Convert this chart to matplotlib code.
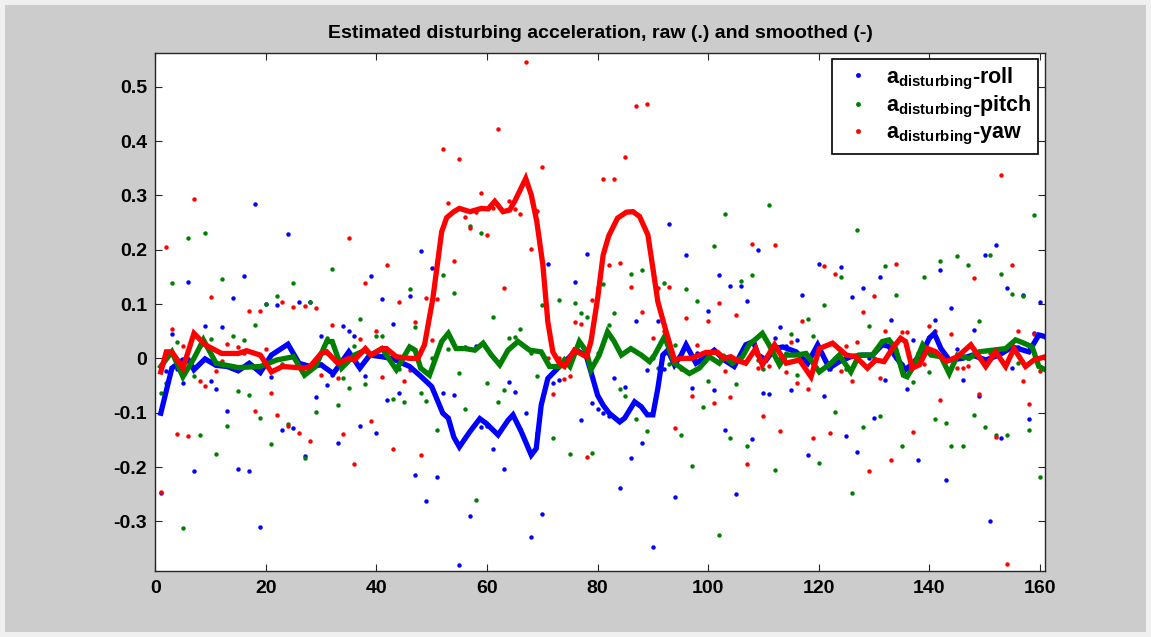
# Disturbing acceleration estimates per axis: raw samples as dots, smoothed as thick lines

import numpy as np
import matplotlib.pyplot as plt
from matplotlib.patches import Rectangle

plt.rcParams['font.family'] = ['Liberation Sans', 'DejaVu Sans']
plt.rcParams['font.weight'] = 'bold'
plt.rcParams['mathtext.fontset'] = 'custom'
plt.rcParams['mathtext.rm'] = 'Liberation Sans:bold'
plt.rcParams['mathtext.bf'] = 'Liberation Sans:bold'
plt.rcParams['mathtext.it'] = 'Liberation Sans:bold'

# -- data --
sample = np.arange(1, 162)

roll_raw = [
    -0.247, -0.023, 0.045, -0.020, -0.045, 0.141, -0.208, 0.023, 0.060, -0.041,
    -0.056, 0.058, -0.096, 0.111, -0.204, 0.152, -0.208, 0.284, -0.311, 0.100,
    -0.034, 0.099, -0.131, 0.229, -0.129, 0.103, -0.179, 0.103, -0.072, 0.042,
    -0.049, -0.030, -0.155, 0.060, 0.050, 0.042, -0.125, -0.033, 0.152, -0.137,
    0.109, -0.076, 0.064, -0.063, -0.010, 0.115, -0.214, 0.198, -0.263, 0.166,
    -0.218, -0.063, -0.110, -0.068, -0.381, 0.021, -0.290, 0.023, -0.127, -0.125,
    -0.166, -0.140, -0.203, -0.043, -0.062, -0.130, -0.100, -0.328, -0.137, -0.287,
    0.174, -0.046, -0.040, -0.010, 0.000, 0.141, -0.113, 0.192, -0.083, -0.093,
    -0.100, -0.106, -0.037, -0.239, -0.053, -0.184, 0.068, -0.155, -0.021, -0.347,
    0.069, -0.020, 0.247, -0.255, 0.000, 0.190, -0.055, 0.010, 0.000, 0.087,
    -0.058, 0.154, -0.131, 0.134, -0.249, 0.133, 0.105, -0.149, 0.200, -0.064,
    -0.066, 0.038, 0.058, 0.023, -0.058, 0.033, 0.117, -0.178, 0.010, 0.174,
    -0.070, -0.019, 0.000, 0.168, -0.143, 0.113, -0.172, 0.129, 0.000, -0.109,
    0.150, -0.039, 0.071, 0.000, -0.010, -0.056, 0.034, -0.188, 0.010, 0.040,
    0.071, 0.162, -0.223, 0.093, 0.018, -0.039, 0.000, 0.052, -0.069, 0.190,
    -0.300, 0.209, -0.147, 0.129, -0.017, 0.020, 0.117, -0.111, 0.047, 0.103,
    0.040,
]

pitch_raw = [
    -0.064, -0.046, 0.138, 0.031, -0.312, 0.221, -0.032, -0.141, 0.231, 0.036,
    -0.176, 0.146, -0.125, 0.042, -0.060, 0.033, -0.068, 0.062, -0.109, 0.100,
    -0.157, 0.115, -0.010, -0.121, 0.138, -0.010, -0.184, 0.104, -0.098, -0.010,
    0.037, 0.164, -0.086, -0.037, -0.055, 0.023, 0.072, -0.047, 0.010, 0.042,
    0.042, 0.010, -0.074, -0.020, -0.080, 0.127, 0.058, -0.063, -0.078, 0.001,
    -0.131, 0.154, 0.018, 0.121, -0.027, -0.093, 0.244, -0.261, 0.231, -0.045,
    0.076, -0.080, -0.058, 0.038, 0.040, 0.054, 0.020, 0.009, -0.033, 0.099,
    -0.010, -0.147, 0.107, -0.001, -0.176, 0.101, 0.083, 0.077, -0.174, 0.010,
    0.136, 0.061, 0.083, -0.056, -0.070, 0.156, -0.111, 0.162, -0.133, 0.000,
    -0.017, 0.138, -0.010, 0.024, -0.141, 0.127, -0.198, 0.105, -0.089, -0.041,
    0.206, -0.326, 0.266, -0.147, -0.048, 0.142, -0.161, 0.154, -0.003, -0.019,
    0.282, -0.206, 0.000, 0.010, 0.044, -0.031, 0.000, 0.072, 0.042, -0.192,
    0.098, -0.010, -0.098, 0.149, -0.020, -0.247, 0.237, -0.127, 0.060, 0.000,
    -0.106, 0.170, 0.020, 0.117, -0.161, -0.030, -0.044, 0.010, 0.149, -0.025,
    -0.111, 0.180, -0.119, -0.161, 0.188, -0.161, 0.172, -0.104, 0.069, -0.127,
    0.190, -0.141, 0.156, -0.141, 0.119, -0.009, 0.115, -0.131, 0.263, -0.218,
    -0.020,
]

yaw_raw = [
    -0.246, 0.205, 0.054, -0.139, 0.023, -0.143, 0.294, -0.042, -0.050, 0.113,
    -0.023, -0.005, 0.026, 0.010, 0.020, 0.010, 0.087, -0.096, 0.087, 0.017,
    -0.064, -0.104, 0.103, -0.125, 0.095, -0.137, 0.097, -0.152, 0.093, -0.031,
    0.010, 0.062, -0.037, -0.139, 0.222, -0.194, 0.036, 0.138, -0.115, 0.050,
    -0.035, 0.172, -0.167, 0.103, -0.042, -0.021, 0.066, -0.177, 0.111, 0.033,
    0.109, 0.386, 0.286, 0.180, 0.366, 0.260, 0.239, 0.270, 0.304, 0.227,
    0.276, 0.422, 0.129, 0.289, 0.275, 0.265, 0.546, 0.202, 0.271, 0.353,
    0.000, -0.066, 0.000, -0.038, -0.033, 0.066, 0.064, -0.182, 0.107, 0.130,
    0.331, 0.172, 0.330, 0.176, 0.371, 0.131, 0.465, 0.085, 0.469, 0.038,
    0.129, 0.050, 0.131, -0.129, -0.020, 0.074, -0.070, 0.025, 0.010, 0.069,
    -0.082, 0.101, -0.023, -0.072, 0.080, 0.000, -0.194, 0.211, -0.017, -0.106,
    -0.015, 0.209, -0.133, -0.026, 0.031, -0.045, 0.068, -0.056, -0.147, 0.020,
    0.170, -0.137, 0.155, -0.023, 0.023, -0.041, 0.031, 0.085, -0.208, 0.115,
    -0.037, 0.050, -0.188, 0.174, 0.048, 0.049, -0.135, -0.010, -0.011, 0.060,
    0.050, -0.077, 0.000, 0.044, -0.018, -0.017, -0.015, 0.147, -0.066, -0.010,
    0.010, -0.144, 0.337, -0.379, 0.172, 0.050, -0.041, -0.084, 0.045, -0.023,
    0.000,
]

# smoothed estimates (sample position, value)
roll_smooth_x = [1, 3, 5, 6, 7, 9, 11, 13, 15, 17, 19, 21, 24, 26, 28, 30, 32.2, 35, 37,
                 38.8, 41, 43, 46, 47.8, 50, 52, 53, 54, 55, 56.9, 58.7, 59.9, 62, 63.8,
                 64.7, 66.2, 68, 68.9, 69.8, 71, 73.1, 75, 76, 76.7, 78, 78.8, 80, 81,
                 82.1, 84, 84.9, 86.7, 87.9, 89, 90, 90.9, 91.8, 92.7, 93.9, 95.1, 96,
                 97.8, 99.6, 101.1, 102.9, 104.7, 106.8, 108.2, 109, 110.5, 112, 113.5,
                 115.9, 118, 119.8, 121.9, 123.7, 125.8, 127.9, 129.7, 131.5, 132.7,
                 133.9, 135.7, 137.3, 138.8, 140, 140.9, 142.1, 143.6, 146, 147.8, 150.2,
                 152.6, 155, 158, 159.8, 161]
roll_smooth_y = [-0.101, -0.018, -0.003, -0.003, -0.021, -0.001, -0.013, -0.015, -0.023,
                 -0.009, -0.026, 0.006, 0.026, -0.009, -0.015, -0.012, -0.028, 0.012,
                 -0.018, 0.006, 0.003, -0.001, -0.015, -0.031, -0.052, -0.101, -0.110,
                 -0.145, -0.163, -0.135, -0.111, -0.120, -0.141, -0.114, -0.104, -0.135,
                 -0.178, -0.166, -0.086, -0.037, -0.015, 0.003, 0.015, 0.012, 0.003,
                 -0.025, -0.068, -0.086, -0.101, -0.117, -0.110, -0.080, -0.089, -0.104,
                 -0.104, -0.055, 0.006, 0.015, -0.012, 0.006, 0.025, -0.009, 0.003, 0.015,
                 -0.003, -0.015, 0.025, 0.031, 0.006, -0.003, 0.018, 0.021, 0.012, -0.009,
                 0.025, -0.018, -0.006, 0.003, 0.006, 0.006, 0.025, 0.022, 0.003, -0.021,
                 -0.006, 0.012, 0.037, 0.046, 0.018, -0.003, 0.000, 0.006, -0.003, 0.006,
                 0.021, 0.012, 0.043, 0.040]

pitch_smooth_x = [1, 3, 5, 7, 8.7, 11, 15, 19, 22, 25, 27, 29, 31, 32, 33.7, 36, 38, 39,
                  41, 43.6, 46, 47, 48, 49.6, 51.8, 53, 54.4, 56, 57.8, 59.3, 60.8, 62.3,
                  63.8, 65.6, 67.7, 69.8, 71.3, 73.1, 74, 75, 76.7, 78, 78.8, 80.3, 81.8,
                  83, 84.3, 86, 87.9, 89.4, 90.3, 92.1, 93.9, 96.6, 98.4, 100.2, 102,
                  102.9, 104.4, 106.2, 107.4, 109.8, 111, 112.9, 114.1, 115.9, 117.7,
                  120.1, 122.2, 123.7, 125.8, 127.3, 129.7, 131.5, 132.7, 133.9, 135.3,
                  136, 137.3, 138.8, 140.3, 142.1, 143.6, 145.1, 147.2, 149, 151.4, 153.8,
                  155.6, 157.1, 158.6, 159.8, 161]
pitch_smooth_y = [-0.015, 0.012, -0.034, 0.000, 0.034, -0.009, -0.017, -0.015, -0.003,
                  0.003, -0.031, -0.015, 0.031, 0.031, -0.018, 0.006, 0.015, 0.006, 0.018,
                  -0.021, 0.021, 0.015, -0.018, -0.031, 0.031, 0.046, 0.018, 0.018, 0.015,
                  0.028, 0.006, -0.012, 0.015, 0.031, 0.015, 0.012, -0.015, -0.015, -0.003,
                  -0.015, 0.031, 0.012, -0.021, 0.006, 0.049, 0.031, 0.006, 0.018, 0.006,
                  -0.006, 0.006, 0.040, -0.009, -0.028, -0.018, 0.003, -0.009, 0.003,
                  -0.009, 0.003, 0.025, 0.046, 0.025, -0.012, 0.006, 0.006, 0.009, -0.025,
                  -0.009, 0.006, -0.025, 0.006, 0.006, 0.031, 0.034, 0.018, -0.031, -0.034,
                  -0.012, 0.025, 0.006, 0.003, -0.028, 0.006, 0.000, 0.012, 0.015, 0.018,
                  0.034, 0.028, 0.021, -0.015, -0.021]

yaw_smooth_x = [1, 2, 3, 5, 7, 9, 12, 15, 16.5, 19, 21, 23, 27, 28, 30, 31, 33, 35, 36,
                38, 39, 41, 41.8, 43.6, 46, 47.5, 48.7, 50.2, 51.8, 52.7, 54, 55, 56.9,
                59, 60.2, 61.4, 62.9, 64.1, 65, 67, 68, 69, 70.1, 71, 71.9, 73.1, 74,
                75.8, 76.7, 78, 78.8, 80, 81, 82, 83.6, 85.2, 86.4, 87.6, 89.1, 90, 90.9,
                92.4, 93.9, 95.1, 96.9, 98.4, 99.6, 101.7, 102.9, 104.1, 105, 106.8,
                107.4, 108.6, 109.8, 112, 114.1, 116.5, 118.6, 120.1, 122.5, 125, 126.7,
                128.8, 130.3, 131.8, 133.3, 134.8, 135.7, 136.9, 138.2, 139.7, 141.2,
                143, 145.1, 147.5, 150.2, 152, 153.8, 155.3, 157.4, 158.9, 161]
yaw_smooth_y = [-0.025, 0.012, 0.012, -0.018, 0.046, 0.025, 0.009, 0.009, 0.014, 0.006,
                -0.025, -0.015, -0.018, -0.015, 0.009, 0.012, -0.009, 0.000, -0.003,
                0.018, 0.006, 0.018, 0.018, 0.003, 0.000, 0.000, 0.025, 0.110, 0.233,
                0.259, 0.270, 0.276, 0.270, 0.276, 0.275, 0.289, 0.270, 0.273, 0.289,
                0.331, 0.301, 0.252, 0.172, 0.067, 0.012, -0.009, -0.015, 0.015, 0.010,
                0.003, 0.031, 0.110, 0.190, 0.225, 0.258, 0.269, 0.270, 0.261, 0.227,
                0.166, 0.104, 0.049, -0.003, 0.000, 0.000, 0.006, 0.011, 0.011, 0.000,
                0.003, -0.003, -0.009, 0.000, 0.018, -0.012, 0.025, -0.009, -0.003,
                -0.034, 0.018, 0.028, 0.006, 0.003, -0.018, -0.003, -0.006, 0.018, 0.037,
                0.031, -0.018, -0.012, 0.018, 0.012, -0.006, 0.003, 0.025, -0.015, 0.012,
                -0.015, 0.018, -0.015, -0.003, 0.003]

labels = [r'$\mathbf{a_{disturbing}}$-roll',
          r'$\mathbf{a_{disturbing}}$-pitch',
          r'$\mathbf{a_{disturbing}}$-yaw']
colors = ['#0000ff', '#008000', '#ff0000']

x_ticks = [0, 20, 40, 60, 80, 100, 120, 140, 160]
y_ticks = [-0.3, -0.2, -0.1, 0, 0.1, 0.2, 0.3, 0.4, 0.5]
y_tick_labels = ['-0.3', '-0.2', '-0.1', '0', '0.1', '0.2', '0.3', '0.4', '0.5']

# -- figure --
fig = plt.figure(figsize=(11.51, 6.37), dpi=100, facecolor='#f0f0f0')
fig.patches.append(Rectangle((5 / 1151, 5 / 637), 1 - 10 / 1151, 1 - 10 / 637,
                             transform=fig.transFigure, facecolor='#cccccc',
                             edgecolor='none', zorder=-10))

ax = fig.add_axes([0.1349, 0.1031, 0.7734, 0.8137])

raws = [roll_raw, pitch_raw, yaw_raw]
smooths = [(roll_smooth_x, roll_smooth_y), (pitch_smooth_x, pitch_smooth_y),
           (yaw_smooth_x, yaw_smooth_y)]

dot_handles = []
for raw, c, lab in zip(raws, colors, labels):
    h, = ax.plot(sample, raw, linestyle='none', marker='o', markersize=3.2,
                 markeredgewidth=0, color=c, label=lab)
    dot_handles.append(h)

for (sx, sy), c in zip(smooths, colors):
    ax.plot(sx, sy, color=c, linewidth=3.8, solid_joinstyle='miter')

ax.set_xlim(0, 161)
ax.set_ylim(-0.392, 0.562)
ax.set_xticks(x_ticks)
ax.set_yticks(y_ticks)
ax.set_yticklabels(y_tick_labels)
ax.tick_params(direction='in', length=5, width=0.8, top=True, right=True,
               labelsize=14, pad=6, colors='#262626', labelcolor='black')
for s in ax.spines.values():
    s.set_color('#262626')
    s.set_linewidth(1.0)

ax.set_title('Estimated disturbing acceleration, raw (.) and smoothed (-)',
             fontsize=14, fontweight='bold', pad=11)

leg = ax.legend(handles=dot_handles, loc='upper right',
                bbox_to_anchor=(0.9916, 0.9884), borderaxespad=0,
                fancybox=False, framealpha=1, edgecolor='black',
                fontsize=15.5, handlelength=1.8, handletextpad=0.4,
                labelspacing=0.12, borderpad=0.3, markerscale=1.1)
leg.get_frame().set_linewidth(1.2)

fig.savefig('out.png', dpi=100, facecolor=fig.get_facecolor())
